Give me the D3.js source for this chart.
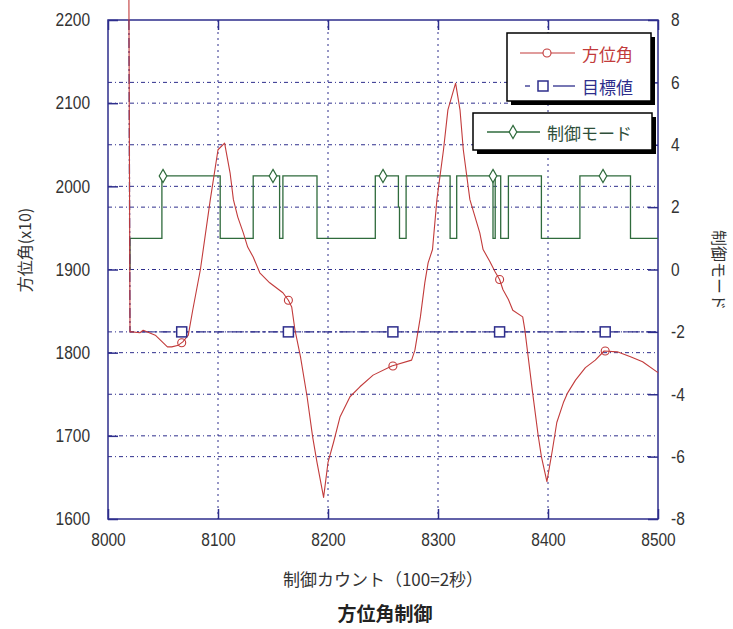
<!DOCTYPE html>
<html>
<head>
<meta charset="utf-8">
<script src="https://cdn.jsdelivr.net/npm/d3@7"></script>
<style>
  html, body { margin: 0; padding: 0; background: #ffffff; }
  svg { display: block; }
</style>
</head>
<body>
<svg id="chart" width="733" height="629"></svg>
<script>
// Tick values for the three axes
const countTicks = [8000, 8100, 8200, 8300, 8400, 8500];
const azimuthTicks = [1600, 1700, 1800, 1900, 2000, 2100, 2200];
const modeTicks = [-8, -6, -4, -2, 0, 2, 4, 6, 8];

// Series names (legend order)
const seriesNames = ["方位角", "目標値", "制御モード"];

// Azimuth (x10) against control count
const azimuthSeries = [
  [8019, 2230], [8020, 1825], [8022, 1825], [8029, 1824], [8032, 1827],
  [8043, 1821], [8054, 1807], [8058, 1807], [8064, 1809], [8068, 1813],
  [8073, 1821], [8077, 1851], [8084, 1900], [8093, 1984], [8100, 2044],
  [8106, 2052], [8111, 2016], [8114, 1984], [8118, 1963], [8123, 1944],
  [8127, 1927], [8132, 1915], [8138, 1896], [8147, 1884], [8159, 1872],
  [8164, 1863], [8167, 1855], [8170, 1827], [8175, 1795], [8181, 1747],
  [8186, 1699], [8190, 1668], [8196, 1626], [8200, 1668], [8205, 1692],
  [8211, 1723], [8220, 1747], [8229, 1759], [8241, 1773], [8258, 1784],
  [8276, 1791], [8279, 1803], [8284, 1843], [8288, 1884], [8291, 1908],
  [8295, 1924], [8299, 1984], [8305, 2044], [8309, 2092], [8316, 2124],
  [8320, 2092], [8323, 2044], [8329, 1984], [8338, 1944], [8341, 1924],
  [8347, 1910], [8352, 1897], [8356, 1888], [8359, 1876], [8364, 1864],
  [8368, 1851], [8377, 1843], [8379, 1827], [8386, 1752], [8391, 1701],
  [8394, 1675], [8399, 1645], [8404, 1683], [8408, 1716], [8414, 1740],
  [8418, 1752], [8425, 1767], [8434, 1782], [8443, 1791], [8451, 1802],
  [8463, 1801], [8475, 1795], [8486, 1789], [8500, 1776]
];
const azimuthMarks = [[8067, 1812], [8164, 1863], [8259, 1784], [8356, 1888], [8452, 1802]];

// Target azimuth (x10)
const targetSeries = [[8019, 2200], [8020, 1825], [8500, 1825]];
const targetMarks = [[8067, 1825], [8164, 1825], [8259, 1825], [8356, 1825], [8452, 1825]];

// Control mode (right axis), value held until the next change
const modeSeries = [
  [8019, 0], [8020, 1], [8049, 3], [8102, 1], [8132, 3], [8156, 1], [8159, 3],
  [8190, 1], [8243, 3], [8264, 2], [8265, 1], [8271, 3], [8311, 1], [8317, 3],
  [8350, 1], [8352, 3], [8357, 1], [8364, 3], [8394, 1], [8429, 3], [8475, 1],
  [8500, 1]
];
const modeMarks = [[8050, 3], [8150, 3], [8250, 3], [8350, 3], [8450, 3]];

const NAVY = "#2e2e8c";
const RED = "#c23b3b";
const GREEN = "#2f6b3c";
const TEXT = "#333333";
const NUM_FONT = "'Liberation Sans', Arial, sans-serif";
const JP_FONT = "'Noto Sans CJK JP', 'Noto Sans', sans-serif";

const plot = { left: 108, right: 658, top: 20, bottom: 519 };

const x = d3.scaleLinear().domain([8000, 8500]).range([plot.left, plot.right]);
const yL = d3.scaleLinear().domain([1600, 2200]).range([plot.bottom, plot.top]);
const yR = d3.scaleLinear().domain([-8, 8]).range([plot.bottom, plot.top]);

const svg = d3.select("#chart");

// Grid lines
const grid = svg.append("g").attr("stroke", NAVY).attr("stroke-width", 1).attr("fill", "none");
grid.selectAll("line.v").data(countTicks.slice(1, -1)).join("line")
  .attr("class", "v")
  .attr("x1", d => x(d)).attr("x2", d => x(d))
  .attr("y1", plot.top).attr("y2", plot.bottom)
  .attr("stroke-dasharray", "2,4");
grid.selectAll("line.hl").data(azimuthTicks.slice(1, -1)).join("line")
  .attr("class", "hl")
  .attr("x1", plot.left).attr("x2", plot.right)
  .attr("y1", d => yL(d)).attr("y2", d => yL(d))
  .attr("stroke-dasharray", "4,3,1,3");
grid.selectAll("line.hr").data(modeTicks.slice(1, -1)).join("line")
  .attr("class", "hr")
  .attr("x1", plot.left).attr("x2", plot.right)
  .attr("y1", d => yR(d)).attr("y2", d => yR(d))
  .attr("stroke-dasharray", "4,3,1,3");

// Axes with inward ticks; numbers drawn in a condensed face
function styleAxis(g) {
  g.select(".domain").remove();
  g.selectAll(".tick line").attr("stroke", NAVY).attr("stroke-width", 1.5);
  g.selectAll(".tick text")
    .attr("fill", TEXT)
    .style("font-family", NUM_FONT).style("font-size", "18px")
    .each(function () {
      const w = this.getComputedTextLength();
      if (w > 0) d3.select(this).attr("textLength", w * 0.86).attr("lengthAdjust", "spacingAndGlyphs");
    });
}
svg.append("g").attr("transform", `translate(${plot.left},0)`)
  .call(d3.axisLeft(yL).tickValues(azimuthTicks).tickSize(-10).tickPadding(18).tickFormat(d3.format("d")))
  .call(styleAxis);
svg.append("g").attr("transform", `translate(${plot.right},0)`)
  .call(d3.axisRight(yR).tickValues(modeTicks).tickSize(-10).tickPadding(13).tickFormat(d => d < 0 ? "-" + Math.abs(d) : d))
  .call(styleAxis);
svg.append("g").attr("transform", `translate(0,${plot.bottom})`)
  .call(d3.axisBottom(x).tickValues(countTicks).tickSize(-10).tickPadding(14).tickFormat(d3.format("d")))
  .call(styleAxis);
svg.append("g").attr("transform", `translate(0,${plot.top})`)
  .call(d3.axisTop(x).tickValues(countTicks).tickSize(-10).tickFormat(""))
  .call(styleAxis);

// Plot frame
svg.append("rect")
  .attr("x", plot.left).attr("y", plot.top)
  .attr("width", plot.right - plot.left).attr("height", plot.bottom - plot.top)
  .attr("fill", "none").attr("stroke", NAVY).attr("stroke-width", 1.5);

// Control mode (step)
svg.append("path").datum(modeSeries)
  .attr("fill", "none").attr("stroke", GREEN).attr("stroke-width", 1.3)
  .attr("d", d3.line().x(d => x(d[0])).y(d => yR(d[1])).curve(d3.curveStepAfter));

// Target
svg.append("path").datum(targetSeries)
  .attr("fill", "none").attr("stroke", NAVY).attr("stroke-width", 1.3)
  .attr("stroke-dasharray", "10,3,2,3")
  .attr("d", d3.line().x(d => x(d[0])).y(d => yL(d[1])));

// Azimuth
svg.append("path").datum(azimuthSeries)
  .attr("fill", "none").attr("stroke", RED).attr("stroke-width", 1.1)
  .attr("stroke-linejoin", "round")
  .attr("d", d3.line().x(d => x(d[0])).y(d => yL(d[1])));

// Markers
const diamond = d3.symbol().type(d3.symbolDiamond).size(50);
svg.append("g").selectAll("path").data(modeMarks).join("path")
  .attr("transform", d => `translate(${x(d[0])},${yR(d[1])})`)
  .attr("d", diamond).attr("fill", "#fff").attr("stroke", GREEN).attr("stroke-width", 1.2);
svg.append("g").selectAll("rect").data(targetMarks).join("rect")
  .attr("x", d => x(d[0]) - 5).attr("y", d => yL(d[1]) - 5)
  .attr("width", 10).attr("height", 10)
  .attr("fill", "#fff").attr("stroke", NAVY).attr("stroke-width", 1.5);
svg.append("g").selectAll("circle").data(azimuthMarks).join("circle")
  .attr("cx", d => x(d[0])).attr("cy", d => yL(d[1])).attr("r", 4)
  .attr("fill", "none").attr("stroke", RED).attr("stroke-width", 1.1);

// Axis titles
svg.append("text")
  .attr("transform", "translate(24,250) rotate(-90)")
  .attr("text-anchor", "middle").attr("dominant-baseline", "central")
  .attr("fill", TEXT).style("font-family", JP_FONT).style("font-size", "16px")
  .text("方位角(x10)");
svg.append("text")
  .attr("transform", "translate(720,270) rotate(90)")
  .attr("text-anchor", "middle").attr("dominant-baseline", "central")
  .attr("fill", TEXT).style("font-family", JP_FONT).style("font-size", "16px")
  .text("制御モード");
svg.append("text")
  .attr("x", 383).attr("y", 578)
  .attr("text-anchor", "middle").attr("dominant-baseline", "central")
  .attr("fill", TEXT).style("font-family", JP_FONT).style("font-size", "17px")
  .text("制御カウント（100=2秒）");
svg.append("text")
  .attr("x", 385).attr("y", 612)
  .attr("text-anchor", "middle").attr("dominant-baseline", "central")
  .attr("fill", "#222").style("font-family", JP_FONT).style("font-size", "19px").style("font-weight", "bold")
  .text("方位角制御");

// Legend boxes with drop shadow
function legendBox(bx, by, bw, bh) {
  const g = svg.append("g");
  g.append("rect").attr("x", bx + 4).attr("y", by + 4).attr("width", bw).attr("height", bh).attr("fill", "#000");
  g.append("rect").attr("x", bx).attr("y", by).attr("width", bw).attr("height", bh)
    .attr("fill", "#fff").attr("stroke", "#000").attr("stroke-width", 1.5);
  return g;
}
function legendText(g, tx, ty, label, color) {
  g.append("text").attr("x", tx).attr("y", ty).attr("dominant-baseline", "central")
    .attr("fill", color).style("font-family", JP_FONT).style("font-size", "17px").text(label);
}

const lg1 = legendBox(507, 33, 144, 68);
lg1.append("line").attr("x1", 520).attr("x2", 575).attr("y1", 53).attr("y2", 53).attr("stroke", RED).attr("stroke-width", 1.1);
lg1.append("circle").attr("cx", 547).attr("cy", 53).attr("r", 4).attr("fill", "#fff").attr("stroke", RED).attr("stroke-width", 1.1);
legendText(lg1, 582, 53, seriesNames[0], RED);
lg1.append("line").attr("x1", 525).attr("x2", 530).attr("y1", 86).attr("y2", 86)
  .attr("stroke", NAVY).attr("stroke-width", 1.3);
lg1.append("line").attr("x1", 553).attr("x2", 575).attr("y1", 86).attr("y2", 86)
  .attr("stroke", NAVY).attr("stroke-width", 1.3);
lg1.append("rect").attr("x", 538).attr("y", 81).attr("width", 10).attr("height", 10)
  .attr("fill", "#fff").attr("stroke", NAVY).attr("stroke-width", 1.5);
legendText(lg1, 582, 86, seriesNames[1], NAVY);

const lg2 = legendBox(473, 113, 179, 37);
lg2.append("line").attr("x1", 487).attr("x2", 540).attr("y1", 132).attr("y2", 132).attr("stroke", GREEN).attr("stroke-width", 1.3);
lg2.append("path").attr("transform", "translate(513,132)").attr("d", diamond)
  .attr("fill", "#fff").attr("stroke", GREEN).attr("stroke-width", 1.2);
legendText(lg2, 547, 132, seriesNames[2], "#2f4f3a");
</script>
</body>
</html>
